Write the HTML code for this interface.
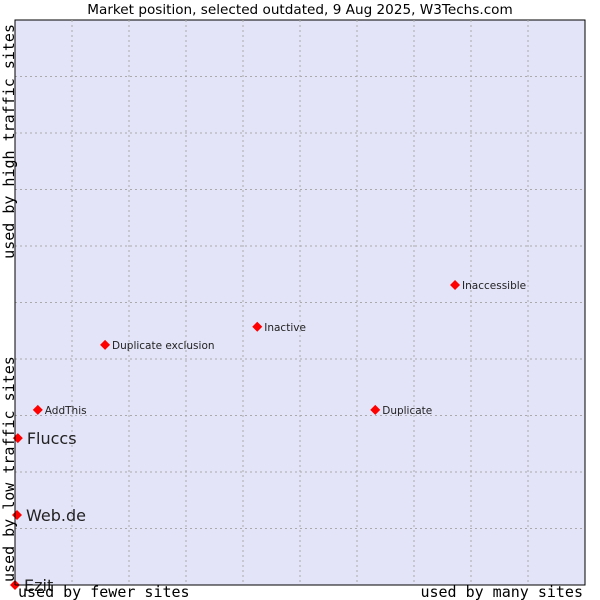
<!DOCTYPE html>
<html><head><meta charset="utf-8"><style>
body{margin:0;background:#fff;width:600px;height:600px;overflow:hidden}
svg{display:block}
</style></head><body>
<svg id="chart" width="600" height="600">
<text x="300" y="14" text-anchor="middle" font-family="DejaVu Sans, sans-serif" font-size="13.6" fill="#000">Market position, selected outdated, 9 Aug 2025, W3Techs.com</text>
<rect x="15" y="20" width="570" height="565" fill="#e3e4f8" stroke="#000" stroke-width="1"/>
<g id="grid"></g>
<g id="pts"></g>
<line x1="15" y1="20" x2="15" y2="585" stroke="#000"/>
<line x1="15" y1="585" x2="585" y2="585" stroke="#000"/>
<text x="18" y="597" font-family="DejaVu Sans Mono, monospace" font-size="15">used by fewer sites</text>
<text x="583" y="597" text-anchor="end" font-family="DejaVu Sans Mono, monospace" font-size="15">used by many sites</text>
<text transform="translate(14,582) rotate(-90)" font-family="DejaVu Sans Mono, monospace" font-size="15">used by low traffic sites</text>
<text transform="translate(14,24) rotate(-90)" text-anchor="end" font-family="DejaVu Sans Mono, monospace" font-size="15">used by high traffic sites</text>
</svg>
<script>
const names=["Ezit","Web.de","Fluccs","AddThis","Duplicate exclusion","Inactive","Duplicate","Inaccessible"];
const xVals=[0,0.35,0.5,4,15.8,42.5,63.2,77.2];
const yVals=[0,12.4,26,31,42.5,45.7,31,53.1];
const bigLabel=[true,true,true,false,false,false,false,false];
const gridSteps=[1,2,3,4,5,6,7,8,9];
const NS="http://www.w3.org/2000/svg";
const X0=15,X1=585,Y0=585,Y1=20;
function sx(v){return X0+v/100*(X1-X0);}
function sy(v){return Y0-v/100*(Y0-Y1);}
const grid=document.getElementById('grid');
gridSteps.forEach(i=>{
  const v=i*10;
  const lx=document.createElementNS(NS,'line');
  lx.setAttribute('x1',sx(v));lx.setAttribute('x2',sx(v));lx.setAttribute('y1',Y1);lx.setAttribute('y2',Y0);
  lx.setAttribute('stroke','#aaa');lx.setAttribute('stroke-dasharray','2,3');
  
  
  grid.appendChild(lx);
  const ly=document.createElementNS(NS,'line');
  ly.setAttribute('y1',sy(v));ly.setAttribute('y2',sy(v));ly.setAttribute('x1',X0);ly.setAttribute('x2',X1);
  ly.setAttribute('stroke','#aaa');ly.setAttribute('stroke-dasharray','2,3');
  
  
  grid.appendChild(ly);
});
const pts=document.getElementById('pts');
names.forEach((n,i)=>{
  const x=sx(xVals[i]),y=sy(yVals[i]);
  const d=document.createElementNS(NS,'polygon');
  d.setAttribute('points',`${x},${y-5} ${x+5},${y} ${x},${y+5} ${x-5},${y}`);
  d.setAttribute('fill','#ff0000');
  
  
  pts.appendChild(d);
  const t=document.createElementNS(NS,'text');
  t.setAttribute('x',x+(bigLabel[i]?9:7));
  t.setAttribute('y',y+(bigLabel[i]?6:4));
  t.setAttribute('font-family','DejaVu Sans, sans-serif');
  t.setAttribute('font-size',bigLabel[i]?'16':'10.5');
  t.setAttribute('fill','#222');
  t.textContent=n;
  
  
  pts.appendChild(t);
});
</script>
</body></html>
